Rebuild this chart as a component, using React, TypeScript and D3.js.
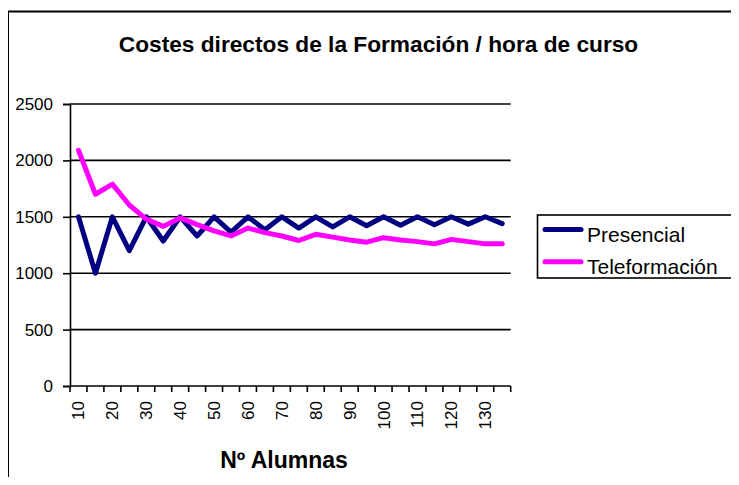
import React, { useEffect, useRef } from "react";
import * as d3 from "d3";

// nº alumnas (categories)
const alumnas = [10, 15, 20, 25, 30, 35, 40, 45, 50, 55, 60, 65, 70, 75, 80, 85, 90, 95, 100, 105, 110, 115, 120, 125, 130, 135];
// coste / hora
const presencial = [1500, 1000, 1500, 1200, 1500, 1285, 1500, 1330, 1500, 1365, 1500, 1385, 1500, 1400, 1500, 1410, 1500, 1420, 1500, 1425, 1500, 1430, 1500, 1435, 1500, 1440];
const teleformacion = [2090, 1700, 1790, 1605, 1480, 1415, 1490, 1430, 1375, 1330, 1400, 1360, 1330, 1290, 1345, 1320, 1295, 1275, 1315, 1295, 1280, 1260, 1300, 1280, 1260, 1260];
const yTicks = [0, 500, 1000, 1500, 2000, 2500];
const xLabels = [10, 20, 30, 40, 50, 60, 70, 80, 90, 100, 110, 120, 130];
const series = [
  { name: "Presencial", values: presencial, color: "#000080" },
  { name: "Teleformación", values: teleformacion, color: "#FF00FF" },
];

function App() {
  const svgRef = useRef<SVGSVGElement>(null);

  useEffect(() => {
    const w = 739;
    const h = 485;
    const svg = d3.select(svgRef.current).attr("width", w).attr("height", h);
    svg.selectAll("*").remove();
    const font = "'Liberation Sans', Arial, sans-serif";

    // outer frame (runs off the right / bottom edge)
    svg.append("path")
      .attr("d", `M8,${h} L8,11.5 L${w},11.5`)
      .attr("fill", "none").attr("stroke", "black").attr("stroke-width", 2);

    const left = 70, right = 510.7, top = 104, bottom = 386;

    const xScale = d3.scaleBand<number>().domain(alumnas).range([left, right]);
    const yScale = d3.scaleLinear().domain([0, 2500]).range([bottom, top]);

    // gridlines
    svg.append("g")
      .selectAll("line")
      .data(yTicks.filter((t) => t > 0))
      .join("line")
      .attr("x1", left).attr("x2", right)
      .attr("y1", (d) => yScale(d)).attr("y2", (d) => yScale(d))
      .attr("stroke", "black").attr("stroke-width", 1.6);

    // y axis
    const yAxis = d3.axisLeft(yScale).tickValues(yTicks).tickFormat(d3.format("d")).tickSize(7).tickPadding(10);
    svg.append("g")
      .attr("transform", `translate(${left},0)`)
      .call(yAxis)
      .call((g) => {
        g.select(".domain").attr("stroke-width", 1.6);
        g.selectAll(".tick line").attr("stroke-width", 1.6);
        g.selectAll("text").attr("font-family", font).attr("font-size", 17).attr("fill", "black");
      });

    // x axis: ticks on band edges
    svg.append("line")
      .attr("x1", left).attr("x2", right).attr("y1", bottom).attr("y2", bottom)
      .attr("stroke", "black").attr("stroke-width", 1.6);
    const edges = alumnas.map((a) => xScale(a)!).concat([right]);
    svg.append("g")
      .selectAll("line")
      .data(edges)
      .join("line")
      .attr("x1", (d) => d).attr("x2", (d) => d)
      .attr("y1", bottom).attr("y2", bottom + 6)
      .attr("stroke", "black").attr("stroke-width", 1.6);
    svg.append("g")
      .selectAll("text")
      .data(xLabels)
      .join("text")
      .attr("transform", (d) => `translate(${xScale(d)! + xScale.bandwidth() / 2 + 6},401) rotate(-90)`)
      .attr("text-anchor", "end")
      .attr("font-family", font)
      .attr("font-size", 17)
      .text((d) => d);

    // lines
    const line = d3.line<number>()
      .x((d, i) => xScale(alumnas[i])! + xScale.bandwidth() / 2)
      .y((d) => yScale(d));
    series.forEach((s) => {
      svg.append("path")
        .datum(s.values)
        .attr("d", line)
        .attr("fill", "none")
        .attr("stroke", s.color)
        .attr("stroke-width", 5)
        .attr("stroke-linejoin", "round")
        .attr("stroke-linecap", "round");
    });

    // title
    svg.append("text")
      .attr("x", 378.5).attr("y", 52)
      .attr("text-anchor", "middle")
      .attr("font-family", font).attr("font-weight", "bold").attr("font-size", 22.7)
      .text("Costes directos de la Formación / hora de curso");

    svg.append("text")
      .attr("x", 284).attr("y", 468)
      .attr("text-anchor", "middle")
      .attr("font-family", font).attr("font-weight", "bold").attr("font-size", 23)
      .text("Nº Alumnas");

    // legend
    const lg = svg.append("g");
    lg.append("rect")
      .attr("x", 537.5).attr("y", 215).attr("width", 195).attr("height", 63)
      .attr("fill", "white").attr("stroke", "black").attr("stroke-width", 1.6);
    series.forEach((s, i) => {
      const y = 229.5 + i * 32.3;
      lg.append("line")
        .attr("x1", 545).attr("x2", 581).attr("y1", y).attr("y2", y)
        .attr("stroke", s.color).attr("stroke-width", 5).attr("stroke-linecap", "round");
      lg.append("text")
        .attr("x", 587).attr("y", y + 12)
        .attr("font-family", font).attr("font-size", 21)
        .text(s.name);
    });
  }, []);

  return (
    <div style={{ margin: -8 }}>
      <svg ref={svgRef} style={{ display: "block" }}></svg>
    </div>
  );
}

export default App;
